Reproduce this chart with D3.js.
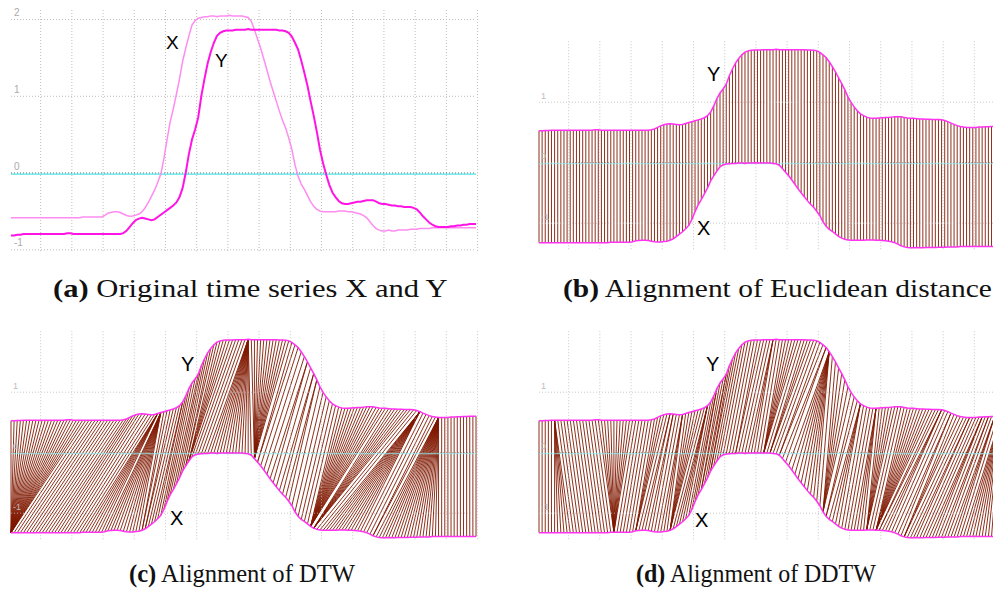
<!DOCTYPE html>
<html>
<head>
<meta charset="utf-8">
<script src="https://cdn.jsdelivr.net/npm/d3@7"></script>
<style>
body { margin: 0; background: #fff; }
svg { display: block; }
</style>
</head>
<body>
<svg id="fig" width="993" height="594"></svg>
<script>
//Figure with 4 panels: the raw series X and Y, then how Euclidean distance,
//DTW and DDTW line up the points of X (bottom) with the points of Y (top).

//series values, one value per sample
var seriesX = [
  -0.59,-0.59,-0.59,-0.59,-0.59,-0.59,-0.59,-0.59,-0.59,-0.59,
  -0.59,-0.59,-0.59,-0.59,-0.59,-0.59,-0.59,-0.59,-0.59,-0.59,
  -0.59,-0.59,-0.59,-0.58,-0.58,-0.58,-0.58,-0.58,-0.58,
  -0.58,-0.56,-0.53,-0.52,-0.51,-0.51,-0.52,-0.54,-0.56,-0.57,
  -0.565,-0.555,-0.54,-0.51,-0.46,-0.39,-0.31,-0.23,-0.13,-0.02,
  0.18,0.43,0.66,0.83,1.02,1.22,1.45,1.62,1.78,1.92,1.98,2.01,2.02,
  2.03,2.03,2.04,2.04,2.03,2.04,2.04,2.04,2.05,2.04,2.04,2.04,2.04,2.03,
  2.02,1.97,1.86,1.74,1.62,1.48,1.34,1.19,1.06,0.93,0.80,0.68,0.58,0.45,
  0.30,0.10,-0.05,-0.15,-0.22,-0.30,-0.38,-0.44,-0.48,-0.50,
  -0.51,-0.51,-0.51,-0.51,-0.51,-0.50,-0.50,-0.50,-0.51,-0.51,-0.52,
  -0.53,-0.54,-0.56,-0.59,-0.64,-0.69,-0.73,-0.75,
  -0.76,-0.76,-0.75,-0.76,-0.76,-0.75,-0.75,-0.75,-0.75,-0.74,-0.74,-0.74,
  -0.73,
  -0.73,-0.73,-0.73,-0.72,-0.72,-0.72,-0.72,-0.72,-0.72,-0.72,-0.72,-0.72,
  -0.72,-0.72,-0.72,-0.72,-0.72,-0.72
];

var seriesY = [
  -0.82,-0.82,-0.81,-0.81,
  -0.80,-0.80,-0.80,-0.80,-0.80,-0.80,-0.80,-0.80,-0.80,-0.80,-0.80,-0.80,
  -0.80,-0.80,-0.79,-0.79,-0.80,-0.80,-0.80,-0.80,-0.80,-0.80,-0.80,-0.80,
  -0.80,-0.80,-0.80,-0.80,-0.80,-0.80,-0.80,
  -0.80,-0.79,-0.76,-0.71,-0.66,-0.62,-0.60,-0.59,-0.60,-0.61,-0.62,-0.61,
  -0.58,-0.55,-0.52,-0.49,-0.46,-0.43,-0.39,-0.32,-0.20,0.00,0.24,0.43,
  0.56,0.72,1.00,1.22,1.42,1.57,1.69,1.78,1.82,1.84,1.85,
  1.85,1.85,1.86,1.86,1.86,1.86,1.87,1.86,1.86,1.86,1.86,1.86,1.86,1.86,
  1.86,1.86,1.85,1.85,1.84,1.82,1.77,
  1.69,1.60,1.46,1.30,1.13,0.93,0.74,0.53,0.30,0.12,-0.03,-0.16,-0.26,
  -0.32,-0.37,-0.40,-0.41,-0.41,-0.40,-0.39,-0.38,-0.38,-0.37,-0.36,-0.36,
  -0.36,-0.38,-0.40,-0.41,-0.41,-0.42,-0.43,-0.43,-0.44,-0.44,-0.45,-0.45,
  -0.45,-0.46,-0.48,-0.52,-0.57,-0.61,-0.65,-0.68,-0.70,-0.71,-0.71,-0.71,
  -0.71,-0.70,-0.70,-0.69,-0.69,-0.68,-0.68,-0.67,-0.67,-0.67
];

//tick labels of the horizontal grid
var gridLabelsRaw = [2, 1, 0, -1];
var gridLabelsAlign = [1, 0, -1];

var captionTags = ["(a)", "(b)", "(c)", "(d)"];
var captionTexts = [" Original time series X and Y", " Alignment of Euclidean distance",
                    " Alignment of DTW", " Alignment of DDTW"];

//colours
var colX = "#ff8cf0";
var colY = "#ff14e6";
var colEdge = "#ff33f0";
var colLink = "#801800";
var colGrid = "#bdbdbd";

var svg = d3.select("#fig");
var n = seriesX.length;

//shared horizontal scale (sample index -> px), same for all panels inside their own group
var xs = d3.scaleLinear().domain([0, n - 1]).range([11, 476]);
var xGrid = d3.range(9.5, n, 10);

//******************************  DTW / DDTW

function derivative(q) {
  var d = q.map(function(v, i) {
    if (i == 0 || i == q.length - 1) return 0;
    return ((q[i] - q[i-1]) + (q[i+1] - q[i-1]) / 2) / 2;
  });
  d[0] = d[1];
  d[q.length-1] = d[q.length-2];
  return d;
}

function dtwPath(a, b) {
  var la = a.length, lb = b.length;
  var D = [];
  for (var i = 0; i < la; i++) {
    D.push(new Float64Array(lb));
    for (var j = 0; j < lb; j++) {
      var c = (a[i] - b[j]) * (a[i] - b[j]);
      if (i == 0 && j == 0) D[i][j] = c;
      else if (i == 0) D[i][j] = c + D[i][j-1];
      else if (j == 0) D[i][j] = c + D[i-1][j];
      else D[i][j] = c + Math.min(D[i-1][j-1], D[i-1][j], D[i][j-1]);
    }
  }
  var path = [[la-1, lb-1]];
  var i = la - 1, j = lb - 1;
  while (i > 0 || j > 0) {
    if (i == 0) j--;
    else if (j == 0) i--;
    else {
      var dg = D[i-1][j-1], up = D[i-1][j], lf = D[i][j-1];
      if (dg <= up && dg <= lf) { i--; j--; }
      else if (up < lf) i--;
      else j--;
    }
    path.push([i, j]);
  }
  return path.reverse();
}

var pairsEuclid = d3.range(n).map(function(i) { return [i, i]; });
var pairsDTW = dtwPath(seriesX, seriesY);
var pairsDDTW = dtwPath(derivative(seriesX), derivative(seriesY));

//******************************  panel (a): raw series

function drawRaw(g) {
  var ys = d3.scaleLinear().domain([-1, 2]).range([249.3, 19]);

  g.selectAll(".vgrid").data(xGrid).enter().append("line")
    .attr("x1", function(d) { return xs(d); }).attr("x2", function(d) { return xs(d); })
    .attr("y1", 10).attr("y2", 252)
    .attr("stroke", colGrid).attr("stroke-dasharray", "1,2");

  g.selectAll(".hgrid").data(gridLabelsRaw).enter().append("line")
    .attr("x1", 11).attr("x2", 476)
    .attr("y1", function(d) { return ys(d) + 0.5; }).attr("y2", function(d) { return ys(d) + 0.5; })
    .attr("stroke", function(d) { return d == 0 ? "#555" : colGrid; })
    .attr("stroke-dasharray", "1,2");

  g.append("line")
    .attr("x1", 11).attr("x2", 476)
    .attr("y1", ys(0) + 1.6).attr("y2", ys(0) + 1.6)
    .attr("stroke", "#4fe3e6").attr("stroke-width", 1.2);

  g.selectAll(".glab").data(gridLabelsRaw).enter().append("text")
    .attr("x", 14).attr("y", function(d) { return ys(d) - 3; })
    .attr("font-family", "Liberation Sans, Arial, sans-serif").attr("font-size", 10)
    .attr("fill", "#aaa")
    .text(function(d) { return d; });

  var line = d3.line().x(function(d, i) { return xs(i); }).y(function(d) { return ys(d); })
    .curve(d3.curveLinear);

  g.append("path").datum(seriesX).attr("d", line)
    .attr("fill", "none").attr("stroke", colX).attr("stroke-width", 1.5);
  g.append("path").datum(seriesY).attr("d", line)
    .attr("fill", "none").attr("stroke", colY).attr("stroke-width", 2);

  g.append("text").attr("x", 166).attr("y", 49).text("X")
    .attr("font-family", "Liberation Sans, Arial, sans-serif").attr("font-size", 19);
  g.append("text").attr("x", 215).attr("y", 67).text("Y")
    .attr("font-family", "Liberation Sans, Arial, sans-serif").attr("font-size", 19);
}

//******************************  panels (b)-(d): alignments

function drawAlign(g, pairs, labelPos) {
  var ys = d3.scaleLinear().domain([-1, 1]).range([222.7, 101.7]);
  //Y is drawn at half scale in the upper band, X at half scale in the lower band
  var yTop = function(v) { return ys(0.5 * v + 0.93); };
  var yBot = function(v) { return ys(0.5 * v - 1.035); };

  g.selectAll(".link").data(pairs).enter().append("line")
    .attr("x1", function(d) { return xs(d[0]); })
    .attr("y1", function(d) { return yBot(seriesX[d[0]]); })
    .attr("x2", function(d) { return xs(d[1]); })
    .attr("y2", function(d) { return yTop(seriesY[d[1]]); })
    .attr("stroke", colLink).attr("stroke-width", 0.9);

  g.selectAll(".vgrid").data(xGrid).enter().append("line")
    .attr("x1", function(d) { return xs(d); }).attr("x2", function(d) { return xs(d); })
    .attr("y1", ys(2)).attr("y2", 250)
    .attr("stroke", colGrid).attr("stroke-dasharray", "1,2").attr("opacity", 0.8);

  g.selectAll(".hgrid").data(gridLabelsAlign).enter().append("line")
    .attr("x1", 11).attr("x2", 476)
    .attr("y1", function(d) { return ys(d) + 0.5; }).attr("y2", function(d) { return ys(d) + 0.5; })
    .attr("stroke", function(d) { return d == 0 ? "#888" : colGrid; })
    .attr("stroke-dasharray", "1,2").attr("opacity", 0.8);

  g.append("line")
    .attr("x1", 11).attr("x2", 476)
    .attr("y1", ys(0) + 1.5).attr("y2", ys(0) + 1.5)
    .attr("stroke", "#8eeef0").attr("stroke-width", 1).attr("opacity", 0.8);

  g.selectAll(".glab").data(gridLabelsAlign).enter().append("text")
    .attr("x", 13).attr("y", function(d) { return ys(d) - 3; })
    .attr("font-family", "Liberation Sans, Arial, sans-serif").attr("font-size", 9)
    .attr("fill", "#bbb")
    .text(function(d) { return d; });

  var lineTop = d3.line().x(function(d, i) { return xs(i); }).y(function(d) { return yTop(d); });
  var lineBot = d3.line().x(function(d, i) { return xs(i); }).y(function(d) { return yBot(d); });

  g.append("path").datum(seriesY).attr("d", lineTop)
    .attr("fill", "none").attr("stroke", colEdge).attr("stroke-width", 1.5);
  g.append("path").datum(seriesX).attr("d", lineBot)
    .attr("fill", "none").attr("stroke", colEdge).attr("stroke-width", 1.5);

  g.append("text").attr("x", labelPos[0]).attr("y", labelPos[1]).text("Y")
    .attr("font-family", "Liberation Sans, Arial, sans-serif").attr("font-size", 20);
  g.append("text").attr("x", labelPos[2]).attr("y", labelPos[3]).text("X")
    .attr("font-family", "Liberation Sans, Arial, sans-serif").attr("font-size", 20);
}

drawRaw(svg.append("g"));
drawAlign(svg.append("g").attr("transform", "translate(528,0)"), pairsEuclid, [179, 81, 169, 235]);
drawAlign(svg.append("g").attr("transform", "translate(0,290)"), pairsDTW, [181, 81, 170, 235]);
drawAlign(svg.append("g").attr("transform", "translate(528,290)"), pairsDDTW, [178, 81, 167, 237]);

//******************************  captions
//same font size everywhere, stretched sideways to the width of the original caption

var capPos = [[53, 297, 395], [563, 297, 429], [129, 582, 226], [636, 582, 240]];

captionTags.forEach(function(tag, k) {
  var t = svg.append("text")
    .attr("font-family", "Liberation Serif, Times New Roman, serif")
    .attr("font-size", 26).attr("fill", "#111");
  t.append("tspan").attr("font-weight", "bold").text(tag);
  t.append("tspan").text(captionTexts[k]);
  var w = t.node().getComputedTextLength();
  t.attr("transform", "translate(" + capPos[k][0] + "," + capPos[k][1] + ") scale(" + (capPos[k][2] / w) + ",1)");
});
</script>
</body>
</html>
